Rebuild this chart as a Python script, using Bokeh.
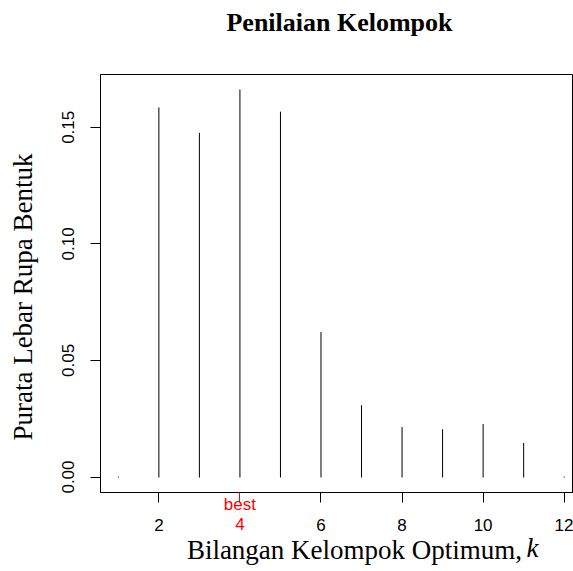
from bokeh.plotting import figure
from bokeh.models import LinearAxis, FixedTicker, PrintfTickFormatter, BasicTickFormatter
from bokeh.embed import file_html
from bokeh.resources import INLINE

# ---- data ----
k_values = [1, 2, 3, 4, 5, 6, 7, 8, 9, 10, 11, 12]
avg_sil_width = [0.0, 0.1583, 0.1474, 0.1660, 0.1565, 0.0620, 0.0306, 0.0212, 0.0203, 0.0225, 0.0144, 0.0]
x_ticks = [2, 4, 6, 8, 10, 12]
y_ticks = [0.0, 0.05, 0.10, 0.15]
best_k = 4
title_text = "Penilaian Kelompok"
xlab_text = "Bilangan Kelompok Optimum,"
xlab_italic = "k"
ylab_text = "Purata Lebar Rupa Bentuk"
best_text = "best"

# ---- layout ----
W, H = 573, 571
L, R, T, B = 100, 0, 74, 79
x0, x1 = 0.56, 12.23
ymax = max(avg_sil_width)
ext = 0.04 * ymax
y0, y1 = -ext, ymax + ext
NB = "\u00a0"
sans = "Liberation Sans"
serif = "Liberation Serif"


def dx(px):
    return x0 + (px - L) * (x1 - x0) / (W - L - R)


p = figure(width=W, height=H, x_range=(x0, x1), y_range=(y0, y1),
           output_backend="svg", toolbar_location=None,
           min_border_left=L, min_border_right=R, min_border_top=T, min_border_bottom=B)
p.xgrid.visible = False
p.ygrid.visible = False
p.outline_line_color = "black"
p.outline_line_width = 1
p.background_fill_color = "white"
p.border_fill_color = "white"

# ---- main axes ----
for ax in (p.xaxis[0], p.yaxis[0]):
    ax.axis_line_color = "black"
    ax.major_tick_line_color = "black"
    ax.major_tick_out = 10
    ax.major_tick_in = 0
    ax.minor_tick_line_color = None
    ax.major_label_text_font = sans
    ax.major_label_text_font_size = "17px"
    ax.major_label_text_color = "black"

other_ticks = [t for t in x_ticks if t != best_k]
xa = p.xaxis[0]
xa.ticker = FixedTicker(ticks=other_ticks, minor_ticks=[best_k])
xa.minor_tick_line_color = "red"
xa.minor_tick_out = 10
xa.minor_tick_in = 0
xa.major_label_standoff = 16

ya = p.yaxis[0]
ya.ticker = FixedTicker(ticks=y_ticks)
ya.formatter = PrintfTickFormatter(format="%.2f")
ya.major_label_orientation = "vertical"
ya.major_label_standoff = 16
ya.axis_label = ylab_text + NB * 4
ya.axis_label_text_font = serif
ya.axis_label_text_font_style = "normal"
ya.axis_label_text_font_size = "27px"
ya.axis_label_text_color = "black"
ya.axis_label_standoff = 22


def text_axis(place, pos, text, font, size, style, color, standoff, fmt=True):
    ax = LinearAxis(ticker=FixedTicker(ticks=[pos]),
                    formatter=PrintfTickFormatter(format=text) if fmt else BasicTickFormatter(),
                    axis_line_color=None, major_tick_line_color=None,
                    minor_tick_line_color=None, major_tick_out=0, major_tick_in=0,
                    minor_tick_out=0, minor_tick_in=0,
                    major_label_standoff=standoff,
                    major_label_text_font=font, major_label_text_font_size=size,
                    major_label_text_font_style=style, major_label_text_color=color)
    p.add_layout(ax, place)
    return ax


# "best" marker and red 4 (drawn back over the main axis band)
text_axis("below", best_k, best_text, sans, "17px", "normal", "red", -39)
text_axis("below", best_k, "", sans, "17px", "normal", "red", -16, fmt=False)
# x title, with italic k
text_axis("below", dx(354), xlab_text, serif, "27px", "normal", "black", 1)
text_axis("below", dx(532), xlab_italic, serif, "27px", "italic", "black", -35)
# main title
text_axis("above", dx(339), title_text, serif, "26px", "bold", "black", 38)

# vertical lines (type = "h")
zeros = [0.0] * len(k_values)
p.segment(x0=k_values, y0=zeros, x1=k_values, y1=avg_sil_width,
          line_color="black", line_width=1, line_cap="square")

open("out.html", "w").write(file_html(p, INLINE))
